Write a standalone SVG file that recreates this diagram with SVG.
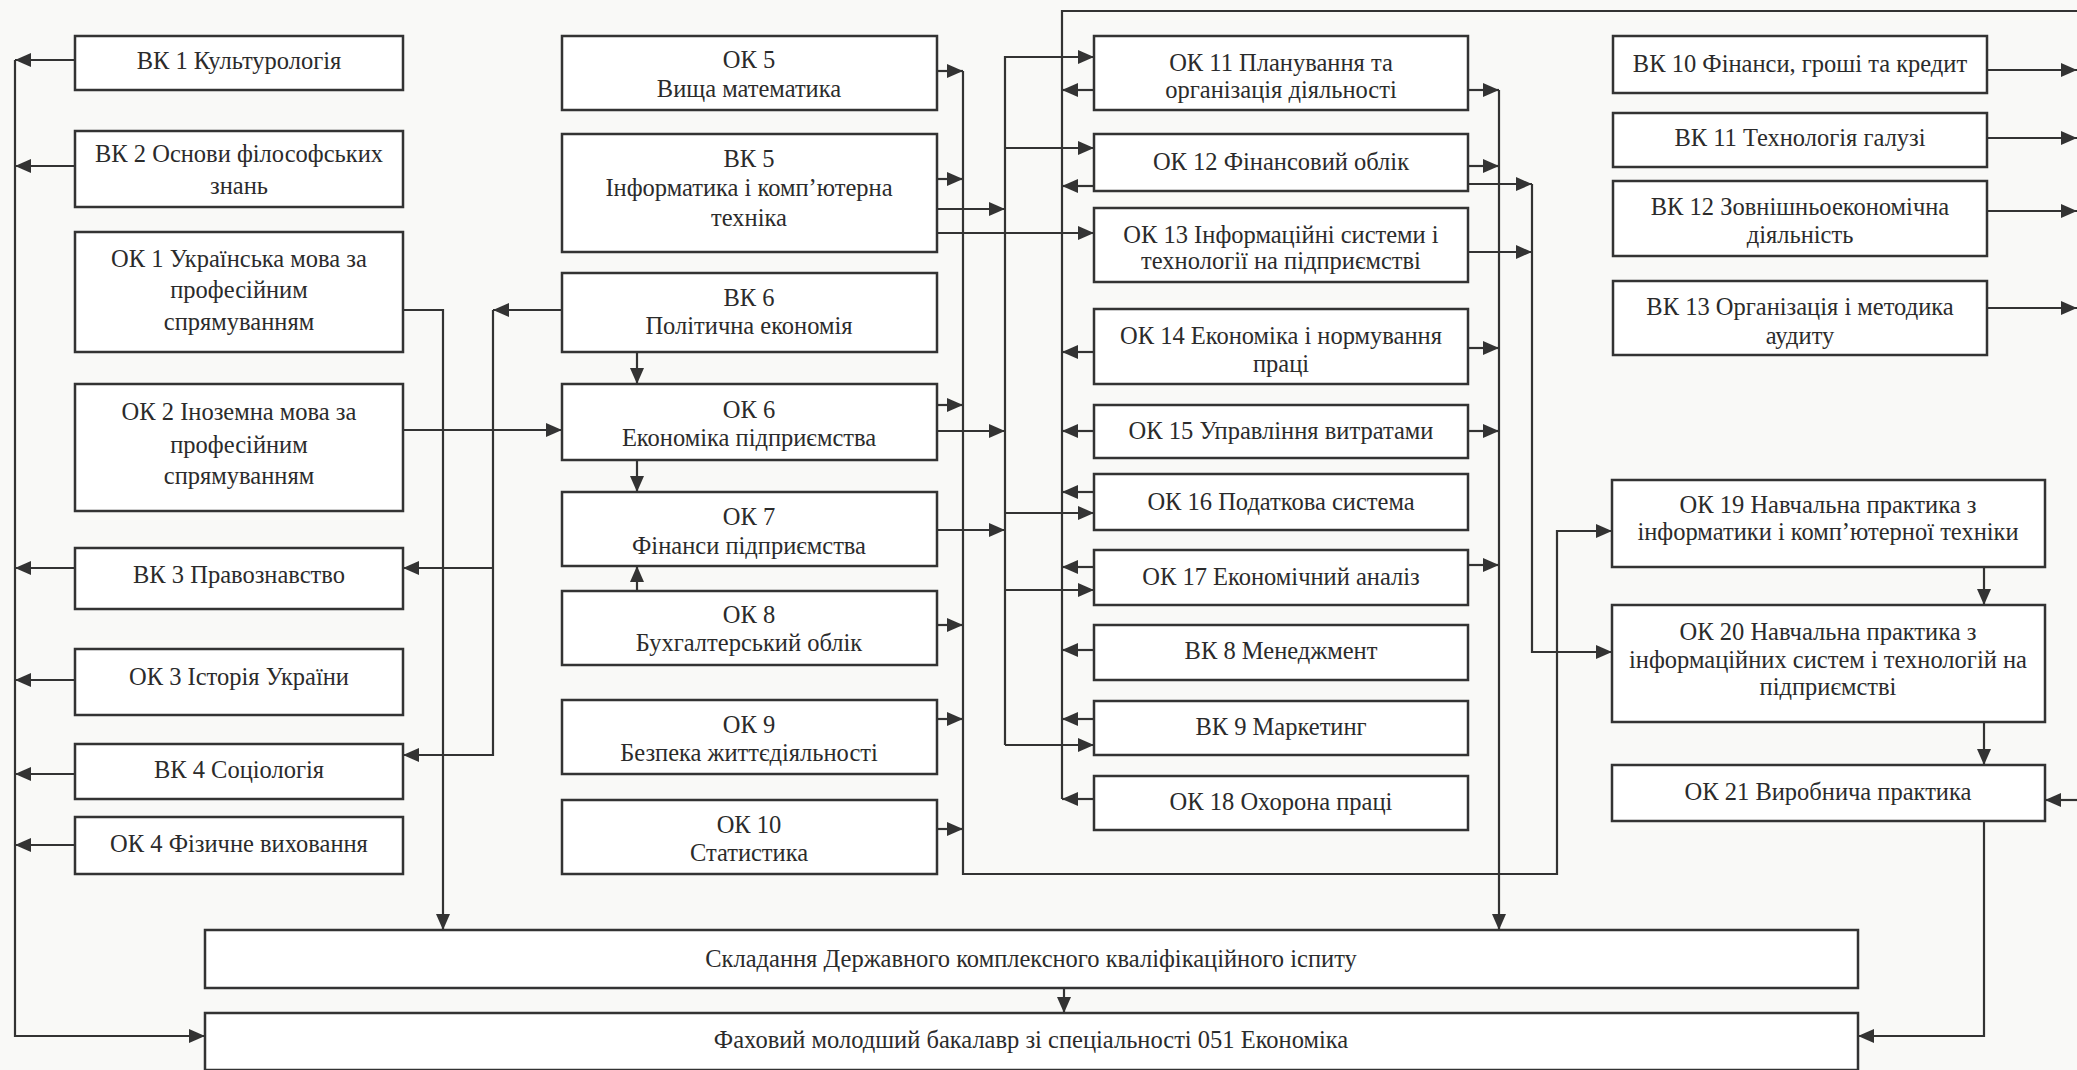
<svg xmlns="http://www.w3.org/2000/svg" width="2077" height="1070" viewBox="0 0 2077 1070">
<defs>
<marker id="ah" markerUnits="userSpaceOnUse" markerWidth="17" markerHeight="15" refX="16" refY="7" orient="auto">
<path d="M0,0 L16,7 L0,14 z" fill="#333"/>
</marker>
<style>
.b{fill:#fff;stroke:#333;stroke-width:2.5}
.t{font-family:"Liberation Serif","Times New Roman",serif;font-size:24.5px;fill:#2b2b2b;text-anchor:middle}
.c path{fill:none;stroke:#333;stroke-width:2.2}
.a{marker-end:url(#ah)}
</style>
</defs>
<rect width="2077" height="1070" fill="#f9f9f7"/>

<g class="c" id="connectors">
<path class="a" d="M75,60 H15"/>
<path class="a" d="M75,166 H15"/>
<path class="a" d="M75,568 H15"/>
<path class="a" d="M75,680 H15"/>
<path class="a" d="M75,774 H15"/>
<path class="a" d="M75,845 H15"/>
<path class="a" d="M15,60 V1036 H205"/>
<path class="a" d="M403,310 H443 V930"/>
<path class="a" d="M403,430 H562"/>
<path class="a" d="M562,310 H493"/>
<path class="a" d="M493,310 V755 H403"/>
<path class="a" d="M493,568 H403"/>
<path class="a" d="M637,352 V384"/>
<path class="a" d="M637,460 V492"/>
<path class="a" d="M637,591 V566"/>
<path class="a" d="M937,71 H963"/>
<path class="a" d="M937,179 H963"/>
<path class="a" d="M937,405 H963"/>
<path class="a" d="M937,625 H963"/>
<path class="a" d="M937,719 H963"/>
<path class="a" d="M937,829 H963"/>
<path class="a" d="M963,71 V874 H1557 V531 H1612"/>
<path class="a" d="M937,209 H1005"/>
<path class="a" d="M937,431 H1005"/>
<path class="a" d="M937,530 H1005"/>
<path class="a" d="M937,233 H1094"/>
<path class="a" d="M1005,745 V57 H1094"/>
<path class="a" d="M1005,148 H1094"/>
<path class="a" d="M1005,513 H1094"/>
<path class="a" d="M1005,590 H1094"/>
<path class="a" d="M1005,745 H1094"/>
<path d="M2077,11 H1062 V799"/>
<path class="a" d="M1094,90 H1062"/>
<path class="a" d="M1094,186 H1062"/>
<path class="a" d="M1094,352 H1062"/>
<path class="a" d="M1094,431 H1062"/>
<path class="a" d="M1094,492 H1062"/>
<path class="a" d="M1094,567 H1062"/>
<path class="a" d="M1094,650 H1062"/>
<path class="a" d="M1094,719 H1062"/>
<path class="a" d="M1094,799 H1062"/>
<path class="a" d="M1468,90 H1499"/>
<path class="a" d="M1468,166 H1499"/>
<path class="a" d="M1468,348 H1499"/>
<path class="a" d="M1468,431 H1499"/>
<path class="a" d="M1468,565 H1499"/>
<path class="a" d="M1499,90 V930"/>
<path class="a" d="M1468,184 H1532"/>
<path class="a" d="M1468,252 H1532"/>
<path class="a" d="M1532,184 V652 H1612"/>
<path class="a" d="M1987,70 H2077"/>
<path class="a" d="M1987,138 H2077"/>
<path class="a" d="M1987,211 H2077"/>
<path class="a" d="M1987,308 H2077"/>
<path class="a" d="M1984,567 V605"/>
<path class="a" d="M1984,722 V765"/>
<path class="a" d="M1984,821 V1036 H1858"/>
<path class="a" d="M2077,800 H2045"/>
<path class="a" d="M1064,988 V1013"/>
</g>

<g id="vk1"><rect class="b" x="75" y="36" width="328" height="54"/><text class="t" x="239" y="69">ВК 1 Культурологія</text></g>
<g id="vk2"><rect class="b" x="75" y="131" width="328" height="76"/><text class="t" x="239" y="162">ВК 2 Основи філософських</text><text class="t" x="239" y="194">знань</text></g>
<g id="ok1"><rect class="b" x="75" y="232" width="328" height="120"/><text class="t" x="239" y="267">ОК 1 Українська мова за</text><text class="t" x="239" y="298">професійним</text><text class="t" x="239" y="330">спрямуванням</text></g>
<g id="ok2"><rect class="b" x="75" y="384" width="328" height="127"/><text class="t" x="239" y="420">ОК 2 Іноземна мова за</text><text class="t" x="239" y="453">професійним</text><text class="t" x="239" y="484">спрямуванням</text></g>
<g id="vk3"><rect class="b" x="75" y="548" width="328" height="61"/><text class="t" x="239" y="583">ВК 3 Правознавство</text></g>
<g id="ok3"><rect class="b" x="75" y="649" width="328" height="66"/><text class="t" x="239" y="685">ОК 3 Історія України</text></g>
<g id="vk4"><rect class="b" x="75" y="744" width="328" height="55"/><text class="t" x="239" y="778">ВК 4 Соціологія</text></g>
<g id="ok4"><rect class="b" x="75" y="817" width="328" height="57"/><text class="t" x="239" y="852">ОК 4 Фізичне виховання</text></g>

<g id="ok5"><rect class="b" x="562" y="36" width="375" height="74"/><text class="t" x="749" y="68">ОК 5</text><text class="t" x="749" y="97">Вища математика</text></g>
<g id="vk5"><rect class="b" x="562" y="134" width="375" height="118"/><text class="t" x="749" y="167">ВК 5</text><text class="t" x="749" y="196">Інформатика і комп’ютерна</text><text class="t" x="749" y="226">техніка</text></g>
<g id="vk6"><rect class="b" x="562" y="273" width="375" height="79"/><text class="t" x="749" y="306">ВК 6</text><text class="t" x="749" y="334">Політична економія</text></g>
<g id="ok6"><rect class="b" x="562" y="384" width="375" height="76"/><text class="t" x="749" y="418">ОК 6</text><text class="t" x="749" y="446">Економіка підприємства</text></g>
<g id="ok7"><rect class="b" x="562" y="492" width="375" height="74"/><text class="t" x="749" y="525">ОК 7</text><text class="t" x="749" y="554">Фінанси підприємства</text></g>
<g id="ok8"><rect class="b" x="562" y="591" width="375" height="74"/><text class="t" x="749" y="623">ОК 8</text><text class="t" x="749" y="651">Бухгалтерський облік</text></g>
<g id="ok9"><rect class="b" x="562" y="700" width="375" height="74"/><text class="t" x="749" y="733">ОК 9</text><text class="t" x="749" y="761">Безпека життєдіяльності</text></g>
<g id="ok10"><rect class="b" x="562" y="800" width="375" height="74"/><text class="t" x="749" y="833">ОК 10</text><text class="t" x="749" y="861">Статистика</text></g>

<g id="ok11"><rect class="b" x="1094" y="36" width="374" height="74"/><text class="t" x="1281" y="71">ОК 11 Планування та</text><text class="t" x="1281" y="98">організація діяльності</text></g>
<g id="ok12"><rect class="b" x="1094" y="134" width="374" height="57"/><text class="t" x="1281" y="170">ОК 12 Фінансовий облік</text></g>
<g id="ok13"><rect class="b" x="1094" y="208" width="374" height="74"/><text class="t" x="1281" y="243">ОК 13 Інформаційні системи і</text><text class="t" x="1281" y="269">технології на підприємстві</text></g>
<g id="ok14"><rect class="b" x="1094" y="309" width="374" height="75"/><text class="t" x="1281" y="344">ОК 14 Економіка і нормування</text><text class="t" x="1281" y="372">праці</text></g>
<g id="ok15"><rect class="b" x="1094" y="405" width="374" height="53"/><text class="t" x="1281" y="439">ОК 15 Управління витратами</text></g>
<g id="ok16"><rect class="b" x="1094" y="474" width="374" height="56"/><text class="t" x="1281" y="510">ОК 16 Податкова система</text></g>
<g id="ok17"><rect class="b" x="1094" y="550" width="374" height="55"/><text class="t" x="1281" y="585">ОК 17 Економічний аналіз</text></g>
<g id="vk8"><rect class="b" x="1094" y="625" width="374" height="55"/><text class="t" x="1281" y="659">ВК 8 Менеджмент</text></g>
<g id="vk9"><rect class="b" x="1094" y="701" width="374" height="54"/><text class="t" x="1281" y="735">ВК 9 Маркетинг</text></g>
<g id="ok18"><rect class="b" x="1094" y="776" width="374" height="54"/><text class="t" x="1281" y="810">ОК 18 Охорона праці</text></g>

<g id="vk10"><rect class="b" x="1613" y="36" width="374" height="57"/><text class="t" x="1800" y="72">ВК 10 Фінанси, гроші та кредит</text></g>
<g id="vk11"><rect class="b" x="1613" y="113" width="374" height="54"/><text class="t" x="1800" y="146">ВК 11 Технологія галузі</text></g>
<g id="vk12"><rect class="b" x="1613" y="181" width="374" height="75"/><text class="t" x="1800" y="215">ВК 12 Зовнішньоекономічна</text><text class="t" x="1800" y="243">діяльність</text></g>
<g id="vk13"><rect class="b" x="1613" y="281" width="374" height="74"/><text class="t" x="1800" y="315">ВК 13 Організація і методика</text><text class="t" x="1800" y="344">аудиту</text></g>

<g id="ok19"><rect class="b" x="1612" y="480" width="433" height="87"/><text class="t" x="1828" y="513">ОК 19 Навчальна практика з</text><text class="t" x="1828" y="540">інформатики і комп’ютерної техніки</text></g>
<g id="ok20"><rect class="b" x="1612" y="605" width="433" height="117"/><text class="t" x="1828" y="640">ОК 20 Навчальна практика з</text><text class="t" x="1828" y="668">інформаційних систем і технологій на</text><text class="t" x="1828" y="695">підприємстві</text></g>
<g id="ok21"><rect class="b" x="1612" y="765" width="433" height="56"/><text class="t" x="1828" y="800">ОК 21 Виробнича практика</text></g>

<g id="exam"><rect class="b" x="205" y="930" width="1653" height="58"/><text class="t" x="1031" y="967">Складання Державного комплексного кваліфікаційного іспиту</text></g>
<g id="graduate"><rect class="b" x="205" y="1013" width="1653" height="57"/><text class="t" x="1031" y="1048">Фаховий молодший бакалавр зі спеціальності  051 Економіка</text></g>
</svg>
